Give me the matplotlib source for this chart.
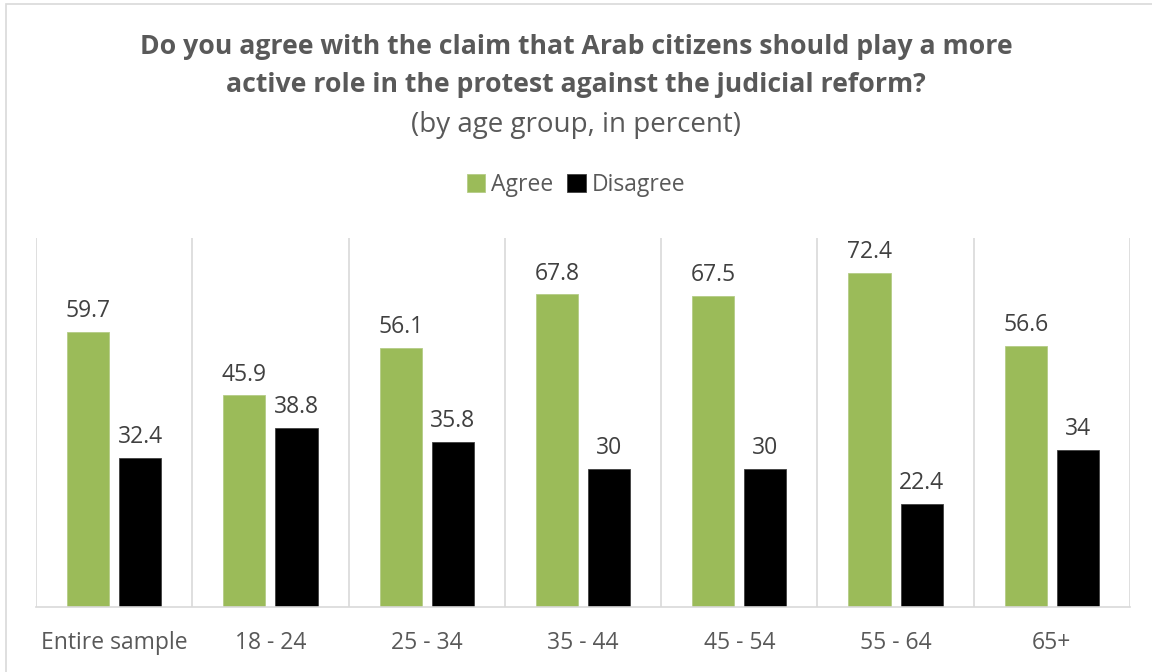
import matplotlib.pyplot as plt
import matplotlib.patches as mpatches
import numpy as np

# data
groups = ["Entire sample", "18 - 24", "25 - 34", "35 - 44", "45 - 54", "55 - 64", "65+"]
agree = [59.7, 45.9, 56.1, 67.8, 67.5, 72.4, 56.6]
disagree = [32.4, 38.8, 35.8, 30, 30, 22.4, 34]
agree_labels = ["59.7", "45.9", "56.1", "67.8", "67.5", "72.4", "56.6"]
disagree_labels = ["32.4", "38.8", "35.8", "30", "30", "22.4", "34"]

green = "#9BBB59"
grey_txt = "#595959"
plt.rcParams["font.family"] = ["Open Sans", "DejaVu Sans"]

fig = plt.figure(figsize=(11.52, 6.72), dpi=100)
ax = fig.add_axes([36/1152, 65/672, (1130-36)/1152, (607-238)/672])

x = np.arange(len(groups))
w = 0.27
off = 0.167
ax.bar(x - off, agree, w, color=green, edgecolor="#b5cc86", linewidth=0.6, label="Agree")
ax.bar(x + off, disagree, w, color="black", edgecolor="#404040", linewidth=0.6, label="Disagree")

for i in range(len(groups)):
    ax.text(x[i] - off, agree[i] + 1.9, agree_labels[i], ha="center", va="bottom",
            fontsize=16.5, color="#404040")
    ax.text(x[i] + off, disagree[i] + 1.9, disagree_labels[i], ha="center", va="bottom",
            fontsize=16.5, color="#404040")

# separators between groups
for s in np.arange(-0.5, len(groups), 1.0):
    ax.axvline(s, color="#d9d9d9", linewidth=1.2, zorder=0)

ax.set_xlim(-0.5, len(groups) - 0.5)
ax.set_ylim(0, 80)
ax.set_yticks([])
ax.set_xticks(x)
ax.set_xticklabels(groups, fontsize=16.5, color=grey_txt)
ax.tick_params(axis="x", length=0, pad=17)
for sp in ["top", "right", "left"]:
    ax.spines[sp].set_visible(False)
ax.spines["bottom"].set_color("#d9d9d9")
ax.spines["bottom"].set_linewidth(1.2)

fig.text(0.5, 1 - 47/672, "Do you agree with the claim that Arab citizens should play a more",
         ha="center", va="center", fontsize=19.2, fontweight="bold", color=grey_txt)
fig.text(0.5, 1 - 85/672, "active role in the protest against the judicial reform?",
         ha="center", va="center", fontsize=19.2, fontweight="bold", color=grey_txt)
fig.text(0.5, 1 - 125/672, "(by age group, in percent)",
         ha="center", va="center", fontsize=20, color=grey_txt)

fig.legend(loc="center", bbox_to_anchor=(0.5, 1 - 185/672), ncol=2, frameon=False,
           fontsize=16.5, labelcolor=grey_txt, handlelength=0.8, handleheight=0.8,
           handletextpad=0.25, columnspacing=0.6)

# chart border
fig.patches.append(mpatches.Rectangle((6/1152, -0.1), 1.2, 1 - 4/672 + 0.1,
                                      transform=fig.transFigure, fill=False,
                                      edgecolor="#d9d9d9", linewidth=1.2))

fig.savefig("out.png", dpi=100)
